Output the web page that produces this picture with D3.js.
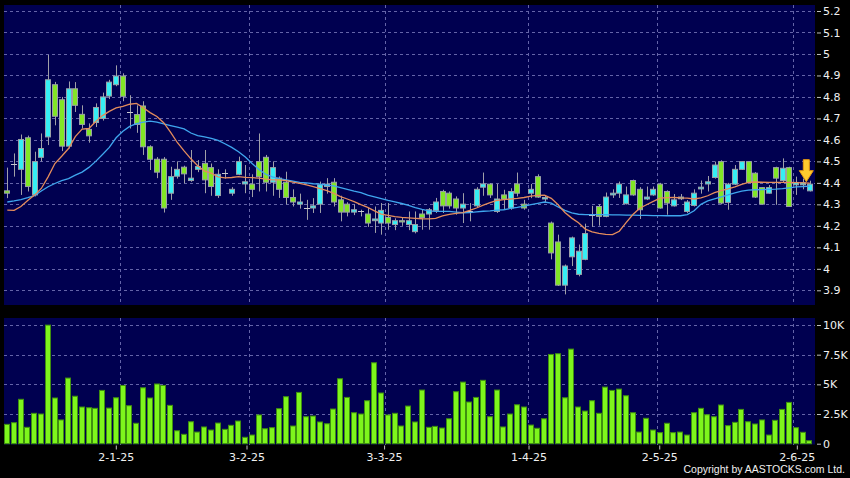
<!DOCTYPE html>
<html><head><meta charset="utf-8">
<script src="https://cdn.jsdelivr.net/npm/d3@7"></script>
<style>html,body{margin:0;padding:0;background:#000;}svg{display:block;}</style>
</head><body>
<svg id="chart" width="850" height="478"></svg>
<script>
// ---- data ----
const opens  = [4.363,4.487,4.463,4.61,4.344,4.519,4.614,4.857,4.787,4.571,4.838,4.719,4.649,4.681,4.7,4.804,4.857,4.897,4.73,4.718,
 4.758,4.568,4.51,4.51,4.352,4.431,4.473,4.411,4.463,4.491,4.471,4.341,4.445,4.352,4.44,4.395,4.394,4.499,4.519,4.403,
 4.422,4.403,4.332,4.301,4.283,4.283,4.301,4.383,4.403,4.321,4.301,4.264,4.27,4.255,4.224,4.213,4.239,4.206,4.224,4.206,
 4.173,4.255,4.255,4.272,4.36,4.352,4.325,4.283,4.267,4.293,4.38,4.394,4.267,4.344,4.283,4.395,4.301,4.352,4.429,4.325,
 4.213,4.125,3.924,4.056,3.974,4.044,4.252,4.29,4.244,4.344,4.352,4.303,4.411,4.37,4.325,4.344,4.394,4.36,4.293,4.326,
 4.267,4.295,4.372,4.395,4.425,4.499,4.309,4.394,4.463,4.499,4.445,4.378,4.352,4.471,4.411,4.471,4.391,4.391,4.363];
const highs  = [4.471,4.537,4.625,4.62,4.545,4.63,4.996,4.87,4.8,4.872,4.869,4.761,4.677,4.77,4.82,4.88,4.947,4.91,4.808,4.761,
 4.78,4.575,4.52,4.52,4.475,4.5,4.48,4.553,4.506,4.553,4.49,4.463,4.463,4.38,4.522,4.483,4.44,4.63,4.53,4.5,
 4.43,4.452,4.37,4.35,4.321,4.329,4.406,4.422,4.422,4.34,4.31,4.3,4.275,4.283,4.29,4.306,4.306,4.235,4.24,4.267,
 4.267,4.275,4.283,4.33,4.368,4.36,4.337,4.352,4.306,4.38,4.448,4.398,4.395,4.368,4.375,4.448,4.321,4.395,4.44,4.34,
 4.22,4.159,4.02,4.15,4.113,4.21,4.293,4.3,4.355,4.37,4.406,4.383,4.415,4.38,4.383,4.383,4.4,4.365,4.348,4.348,
 4.32,4.37,4.411,4.432,4.499,4.505,4.4,4.483,4.5,4.5,4.45,4.38,4.39,4.475,4.514,4.475,4.429,4.42,4.41];
const lows   = [4.329,4.429,4.344,4.36,4.337,4.5,4.576,4.668,4.548,4.56,4.73,4.653,4.587,4.66,4.69,4.79,4.85,4.78,4.653,4.633,
 4.53,4.46,4.422,4.262,4.321,4.42,4.398,4.405,4.45,4.352,4.34,4.33,4.42,4.34,4.436,4.352,4.334,4.36,4.36,4.34,
 4.33,4.3,4.29,4.28,4.228,4.26,4.26,4.35,4.29,4.221,4.244,4.25,4.244,4.195,4.167,4.159,4.182,4.18,4.2,4.18,
 4.165,4.182,4.182,4.26,4.26,4.28,4.252,4.213,4.221,4.285,4.34,4.33,4.26,4.275,4.275,4.337,4.275,4.329,4.33,4.31,
 4.044,3.92,3.881,4.013,3.965,4.04,4.195,4.201,4.24,4.33,4.33,4.3,4.34,4.232,4.32,4.34,4.28,4.252,4.29,4.32,
 4.26,4.29,4.35,4.36,4.42,4.3,4.275,4.39,4.46,4.4,4.33,4.3,4.35,4.298,4.40,4.29,4.344,4.37,4.36];
const closes = [4.352,4.487,4.602,4.383,4.499,4.56,4.88,4.71,4.571,4.838,4.761,4.672,4.619,4.751,4.8,4.869,4.897,4.803,4.73,4.672,
 4.568,4.51,4.45,4.283,4.429,4.463,4.442,4.422,4.476,4.414,4.383,4.44,4.445,4.37,4.499,4.405,4.37,4.429,4.403,4.471,
 4.37,4.332,4.311,4.311,4.283,4.293,4.391,4.394,4.311,4.264,4.264,4.275,4.27,4.213,4.232,4.272,4.213,4.224,4.218,4.224,
 4.206,4.239,4.275,4.311,4.293,4.293,4.283,4.301,4.267,4.37,4.395,4.344,4.325,4.325,4.36,4.352,4.283,4.37,4.334,4.332,
 4.074,3.924,4.013,4.144,4.082,4.164,4.252,4.244,4.334,4.352,4.394,4.344,4.344,4.275,4.334,4.37,4.283,4.306,4.321,4.334,
 4.311,4.352,4.38,4.405,4.483,4.306,4.394,4.463,4.499,4.402,4.334,4.301,4.378,4.422,4.468,4.29,4.402,4.401,4.394];
// volume in thousands
const volumesK = [1.63,1.77,3.74,1.38,2.56,2.5,9.99,3.85,2.0,5.53,4.0,3.09,3.03,2.98,4.49,3.0,3.87,4.91,3.2,1.72,
 4.71,3.85,5.03,4.91,3.23,1.09,0.79,1.85,0.98,1.41,1.15,1.74,1.21,1.55,1.91,0.54,0.73,2.42,1.26,1.35,
 2.95,3.96,1.49,4.32,2.27,2.33,1.83,1.68,2.92,5.47,3.9,2.61,2.5,3.62,6.82,4.27,2.42,2.56,1.49,3.17,
 1.83,4.52,1.38,1.46,1.32,2.1,4.38,5.19,3.51,3.9,5.34,2.27,4.52,1.41,2.5,3.28,3.09,1.57,1.3,2.1,
 7.52,7.58,3.87,7.97,3.09,2.75,3.62,2.56,4.77,4.49,4.6,4.04,2.61,0.98,2.14,1.15,0.93,1.72,0.93,0.98,
 0.73,2.61,2.98,2.44,2.27,3.26,1.52,1.8,2.89,1.85,1.66,2.0,0.73,1.97,2.89,3.48,1.35,0.96,0.25];
// moving-average lines as drawn (orange = short, blue = long)
const maShort = [4.273,4.272,4.29,4.318,4.343,4.374,4.428,4.49,4.524,4.56,4.615,4.65,4.653,4.686,4.713,4.733,4.749,4.756,4.766,4.77,
 4.75,4.727,4.709,4.68,4.636,4.588,4.549,4.512,4.48,4.455,4.445,4.428,4.423,4.425,4.429,4.426,4.424,4.422,4.417,4.414,
 4.414,4.41,4.403,4.398,4.391,4.382,4.373,4.364,4.351,4.336,4.325,4.313,4.299,4.286,4.27,4.255,4.249,4.243,4.239,4.237,
 4.235,4.233,4.232,4.235,4.246,4.253,4.258,4.262,4.272,4.283,4.296,4.308,4.318,4.322,4.325,4.328,4.332,4.338,4.342,4.343,
 4.328,4.298,4.262,4.236,4.214,4.185,4.172,4.165,4.16,4.159,4.175,4.215,4.253,4.282,4.298,4.314,4.329,4.331,4.332,4.33,
 4.329,4.325,4.33,4.34,4.355,4.364,4.372,4.381,4.393,4.402,4.404,4.403,4.402,4.402,4.402,4.402,4.401,4.4,4.399];
const maLong = [4.311,4.316,4.322,4.331,4.341,4.362,4.382,4.397,4.41,4.42,4.436,4.45,4.472,4.5,4.532,4.565,4.61,4.64,4.663,4.676,
 4.683,4.687,4.683,4.675,4.667,4.659,4.651,4.632,4.62,4.614,4.607,4.598,4.582,4.565,4.545,4.52,4.49,4.462,4.44,4.428,
 4.42,4.414,4.408,4.402,4.4,4.396,4.394,4.39,4.386,4.378,4.37,4.362,4.355,4.343,4.335,4.327,4.319,4.312,4.304,4.295,
 4.285,4.277,4.27,4.267,4.267,4.267,4.264,4.261,4.262,4.265,4.268,4.27,4.273,4.275,4.281,4.286,4.292,4.299,4.305,4.311,
 4.306,4.288,4.272,4.26,4.254,4.252,4.252,4.252,4.252,4.251,4.251,4.25,4.25,4.249,4.249,4.248,4.248,4.247,4.247,4.247,
 4.252,4.27,4.3,4.316,4.326,4.335,4.344,4.354,4.362,4.366,4.368,4.369,4.37,4.371,4.373,4.377,4.381,4.383,4.385];
const priceTicks = [3.9,4,4.1,4.2,4.3,4.4,4.5,4.6,4.7,4.8,4.9,5,5.1,5.2];
const volumeTicksK = [0,2.5,5,7.5,10];
const dateTickIndex = [16,35,55,76,95,115];
const dateTickLabels = ["2-1-25","3-2-25","3-3-25","1-4-25","2-5-25","2-6-25"];
const copyright = "Copyright by AASTOCKS.com Ltd.";

// ---- layout / style ----
const W = 850, H = 478;
const panelL = 4, panelR = 815;
const priceTop = 5, priceBot = 305;
const volTop = 318, volBot = 444.5;
const bg = "#000050", gridCol = "#6464a8";
const upFill = "#36eef4", downFill = "#82e626", bodyStroke = "#9aa0a8", wickCol = "#a0a0a8";
const volFill = "#7ef51c", volStroke = "#3f8f10";
const font = "DejaVu Sans, Verdana, sans-serif";

const svg = d3.select("#chart");
svg.append("rect").attr("width", W).attr("height", H).attr("fill", "#000");

const idx = d3.range(opens.length);
const x = d3.scaleBand().domain(idx).range([3.9, 813.1]);
const axisX = d3.scaleBand().domain(idx).range([2.8, 821.4]);
const bw = x.bandwidth();
const cx = i => x(i) + bw / 2;
const yP = d3.scaleLinear().domain([3.9, 5.2]).range([290.3, 11]);
const yV = d3.scaleLinear().domain([0, 10]).range([443.7, 325]);

// panels
svg.append("rect").attr("x", panelL).attr("y", priceTop).attr("width", panelR - panelL).attr("height", priceBot - priceTop).attr("fill", bg);
svg.append("rect").attr("x", panelL).attr("y", volTop).attr("width", panelR - panelL).attr("height", volBot - volTop).attr("fill", bg);

// grid
const grid = svg.append("g").attr("stroke", gridCol).attr("stroke-width", 1).attr("stroke-dasharray", "3,3").attr("shape-rendering", "crispEdges");
grid.selectAll(".hp").data(priceTicks).join("line")
  .attr("x1", panelL).attr("x2", panelR).attr("y1", d => Math.round(yP(d)) + 0.5).attr("y2", d => Math.round(yP(d)) + 0.5);
grid.selectAll(".hv").data(volumeTicksK.filter(d => d > 0)).join("line").attr("class", "hv")
  .attr("x1", panelL).attr("x2", panelR).attr("y1", d => Math.round(yV(d)) + 0.5).attr("y2", d => Math.round(yV(d)) + 0.5);
dateTickIndex.forEach(i => {
  const gx = Math.round(x(i) + bw) + 0.5;
  grid.append("line").attr("x1", gx).attr("x2", gx).attr("y1", priceTop).attr("y2", priceBot);
  grid.append("line").attr("x1", gx).attr("x2", gx).attr("y1", volTop).attr("y2", volBot);
});

// candles
const candles = svg.append("g");
candles.selectAll(".wick").data(idx).join("line")
  .attr("x1", i => Math.round(cx(i)) + 0.5).attr("x2", i => Math.round(cx(i)) + 0.5)
  .attr("y1", i => yP(highs[i])).attr("y2", i => yP(lows[i]))
  .attr("stroke", wickCol).attr("stroke-width", 1);
const bodyW = 6;
candles.selectAll(".body").data(idx.filter(i => opens[i] !== closes[i])).join("rect")
  .attr("x", i => Math.round(cx(i) - bodyW / 2) + 0.5)
  .attr("y", i => yP(Math.max(opens[i], closes[i])))
  .attr("width", bodyW - 1)
  .attr("height", i => Math.max(1, Math.abs(yP(opens[i]) - yP(closes[i]))))
  .attr("fill", i => closes[i] > opens[i] ? upFill : downFill)
  .attr("stroke", bodyStroke).attr("stroke-width", 1);
candles.selectAll(".doji").data(idx.filter(i => opens[i] === closes[i])).join("line")
  .attr("x1", i => Math.round(cx(i) - bodyW / 2)).attr("x2", i => Math.round(cx(i) + bodyW / 2))
  .attr("y1", i => Math.round(yP(closes[i])) + 0.5).attr("y2", i => Math.round(yP(closes[i])) + 0.5)
  .attr("stroke", "#c8c8d0").attr("stroke-width", 1);

const line = d3.line().x((d, i) => cx(i)).y(d => yP(d));
svg.append("path").datum(maLong).attr("d", line).attr("fill", "none").attr("stroke", "#3fa6ee").attr("stroke-width", 1.3);
svg.append("path").datum(maShort).attr("d", line).attr("fill", "none").attr("stroke", "#e48c5c").attr("stroke-width", 1.3);

// last-day arrow
const last = opens.length - 1;
const ax = (cx(last) + cx(last - 1)) / 2;
const tip = yP(closes[last - 1]) - 1;
svg.append("path")
  .attr("d", `M${ax - 3},${tip - 22} L${ax + 3},${tip - 22} L${ax + 3},${tip - 11} L${ax + 7},${tip - 11} L${ax},${tip} L${ax - 7},${tip - 11} L${ax - 3},${tip - 11} Z`)
  .attr("fill", "#ffcb2e").attr("stroke", "#e89a10").attr("stroke-width", 1);

// volume bars
svg.append("g").selectAll("rect").data(idx).join("rect")
  .attr("x", i => Math.round(x(i)) + 0.5)
  .attr("y", i => yV(volumesK[i]))
  .attr("width", Math.round(bw) - 2)
  .attr("height", i => yV(0) - yV(volumesK[i]))
  .attr("fill", volFill).attr("stroke", volStroke).attr("stroke-width", 1);

// axes
function styleAxis(g) {
  g.select(".domain").remove();
  g.selectAll(".tick line").attr("stroke", "#c0c0c0");
  g.selectAll(".tick text").attr("fill", "#f0f0f0").style("font-family", font).style("font-size", "11px");
}
svg.append("g").attr("transform", `translate(${panelR + 2},0)`)
  .call(d3.axisRight(yP).tickValues(priceTicks).tickSize(4).tickPadding(2).tickFormat(d => String(d)))
  .call(styleAxis);
svg.append("g").attr("transform", `translate(${panelR + 2},0)`)
  .call(d3.axisRight(yV).tickValues(volumeTicksK).tickSize(4).tickPadding(2).tickFormat(d => d === 0 ? "0" : d + "K"))
  .call(styleAxis);
svg.append("g").attr("transform", `translate(0,${volBot + 1})`)
  .call(d3.axisBottom(axisX).tickValues(dateTickIndex).tickSize(4).tickPadding(4).tickFormat((d, k) => dateTickLabels[k]))
  .call(styleAxis);

svg.append("text").attr("x", 845).attr("y", 473).attr("text-anchor", "end")
  .attr("fill", "#f0f0f0").style("font-family", "Liberation Sans, Arial, sans-serif").style("font-size", "10.5px")
  .text(copyright);
</script>
</body></html>
